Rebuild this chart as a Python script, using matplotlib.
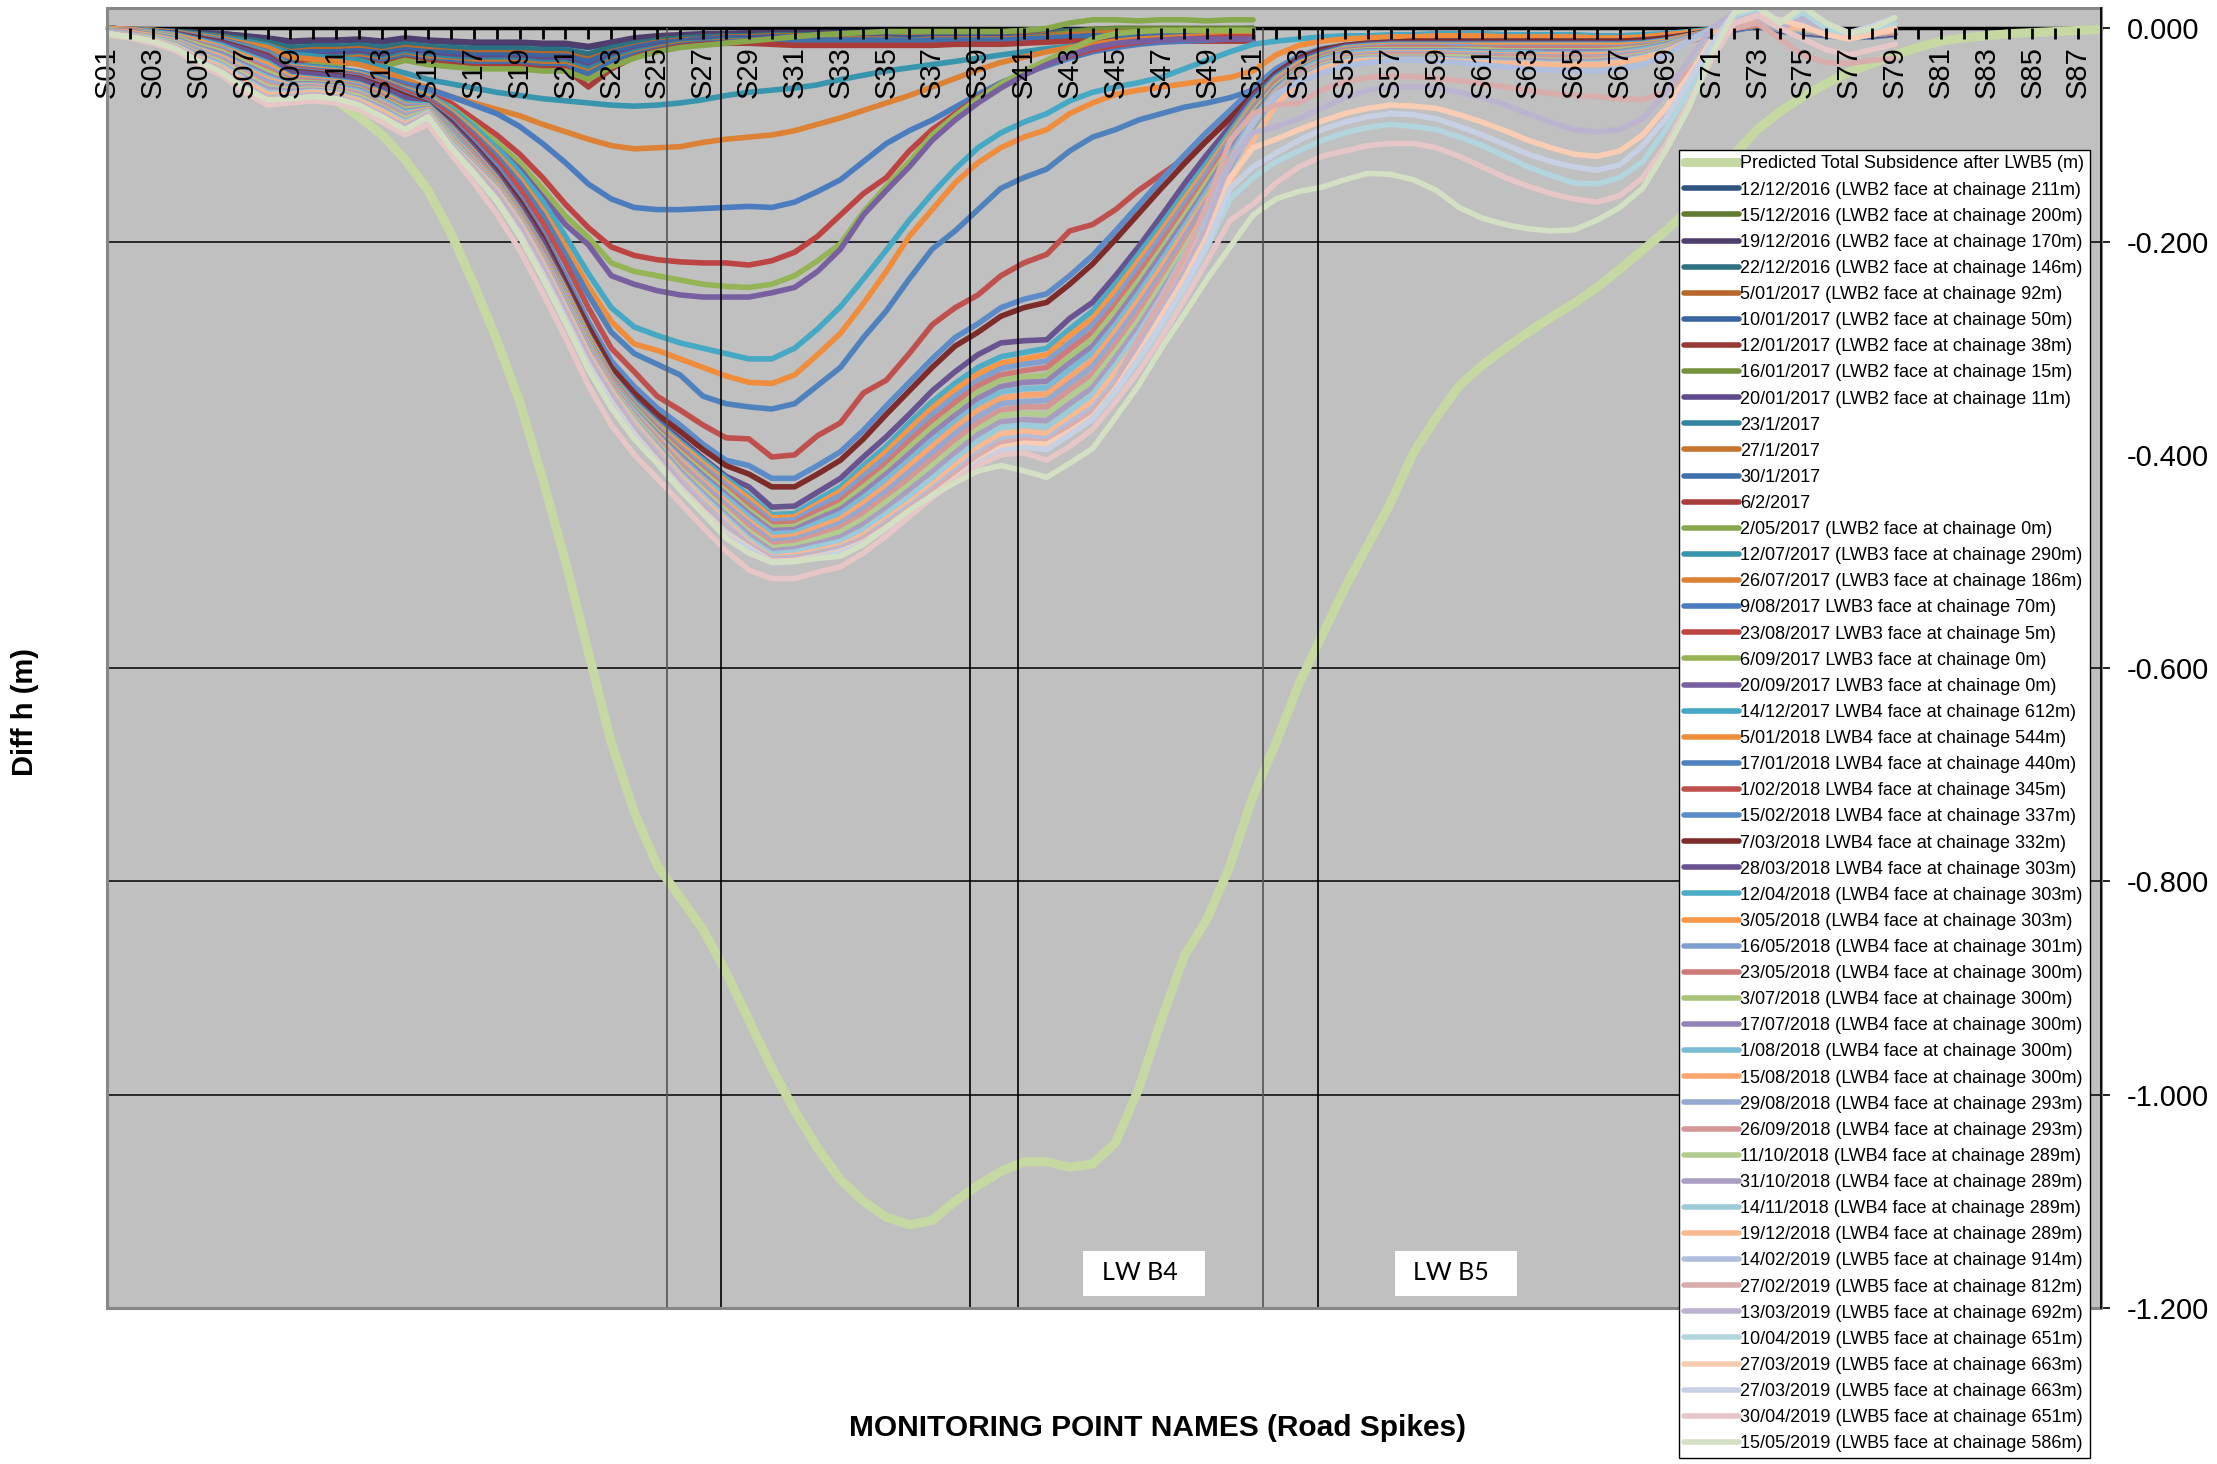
import numpy as np
import matplotlib
matplotlib.use("Agg")
import matplotlib.pyplot as plt
from matplotlib.patches import Rectangle

plt.rcParams['font.family'] = ['Liberation Sans', 'DejaVu Sans']
plt.rcParams['axes.unicode_minus'] = False

# road spikes S01..S88
points = ['S%02d' % n for n in range(1, 89)]

# all readings in mm, one value per spike starting at S01
predicted = [-5, -7, -10, -13, -17, -22, -28, -35, -44, -55,
             -68, -83, -100, -123, -152, -192, -240, -292, -350, -422,
             -500, -585, -670, -735, -785, -815, -845, -885, -930, -975,
             -1015, -1050, -1080, -1100, -1115, -1122, -1118, -1100, -1085, -1072,
             -1063, -1063, -1068, -1065, -1045, -995, -930, -870, -835, -785,
             -720, -670, -615, -570, -525, -485, -445, -398, -365, -335,
             -316, -300, -285, -271, -258, -243, -226, -208, -190, -170,
             -145, -118, -95, -78, -64, -52, -41, -33, -25, -18,
             -12, -9, -7, -5, -4, -3, -2, -1]

# LWB2 period (S01-S51)
s_20161212 = [0, -1, -2, -3, -4, -5, -7, -10, -13,
              -12, -12, -11, -13, -10, -12, -13, -14, -14, -14, -15, -15, -18,
              -14, -10, -8, -7, -6, -5, -5, -4, -4, -4, -4, -4, -4, -5, -4, -4, -4, -4, -4, -3,
              -2, -2, -2, -2, -1, -1, -1, -1, 0]
s_20161215 = [0, -1, -2, -4, -5, -7, -10, -14, -19,
              -18, -18, -17, -19, -16, -18, -19, -20, -21, -21, -22, -22, -26,
              -20, -15, -12, -10, -9, -8, -7, -6, -6, -6, -6, -6, -7, -7, -6, -6, -6, -6, -6, -5,
              -3, -1, 0, 0, 0, 0, 0, 0, 0]
s_20161219 = [0, -1, -2, -3, -4, -5, -7, -9, -12,
              -11, -11, -10, -12, -9, -11, -12, -13, -13, -13, -14, -14, -17,
              -13, -9, -7, -6, -5, -5, -4, -4, -4, -4, -4, -4, -4, -5, -4, -4, -4, -4, -4, -4,
              -6, -7, -7, -7, -7, -7, -7, -8, -8]
s_20161222 = [0, -1, -2, -3, -5, -7, -10, -13, -18,
              -17, -17, -16, -18, -15, -17, -18, -19, -19, -19, -20, -20, -24,
              -18, -14, -11, -9, -8, -7, -7, -6, -6, -6, -6, -6, -6, -7, -6, -6, -6, -6, -6, -5,
              -4, -3, -3, -3, -3, -3, -3, -3, -3]
s_20170105 = [0, -1, -2, -4, -6, -8, -12, -16, -22,
              -20, -20, -19, -22, -18, -20, -22, -23, -23, -23, -24, -24, -29,
              -22, -17, -13, -11, -10, -8, -8, -7, -7, -7, -7, -7, -7, -8, -7, -7, -7, -7, -7, -6,
              -5, -4, -4, -4, -4, -4, -4, -3, -3]
s_20170110 = [0, -1, -3, -4, -6, -9, -13, -17, -23,
              -22, -22, -21, -23, -20, -22, -23, -25, -25, -25, -26, -26, -31,
              -23, -18, -14, -12, -10, -9, -9, -8, -8, -8, -8, -8, -8, -9, -8, -8, -8, -8, -8, -7,
              -7, -6, -6, -6, -6, -6, -6, -6, -6]
s_20170112 = [0, -2, -3, -5, -8, -11, -15, -20, -27,
              -26, -26, -24, -27, -23, -26, -27, -29, -29, -29, -30, -30, -38,
              -27, -21, -17, -14, -12, -11, -11, -10, -10, -10, -10, -11, -12, -12, -12, -12, -12, -13, -13, -12,
              -11, -11, -11, -11, -11, -11, -11, -11, -11]
s_20170116 = [0, -2, -4, -5, -9, -13, -18, -23, -32,
              -31, -31, -29, -32, -27, -31, -32, -34, -35, -35, -36, -36, -42,
              -32, -25, -20, -16, -14, -13, -12, -11, -11, -11, -11, -11, -11, -12, -11, -11, -11, -11, -10, -8,
              -4, -2, -1, -1, -1, -1, -1, -1, -1]
s_20170120 = [0, -2, -3, -5, -8, -11, -15, -20, -27,
              -26, -25, -24, -27, -23, -25, -27, -28, -28, -28, -30, -30, -36,
              -27, -21, -17, -14, -12, -11, -10, -9, -9, -9, -9, -9, -9, -10, -9, -9, -9, -9, -9, -9,
              -9, -9, -9, -10, -10, -10, -10, -10, -10]
s_20170123 = [0, -2, -3, -5, -8, -11, -16, -21, -29,
              -27, -27, -26, -29, -24, -27, -29, -30, -30, -30, -32, -32, -38,
              -29, -22, -18, -14, -13, -11, -11, -10, -10, -10, -10, -10, -10, -11, -10, -10, -10, -10, -9, -8,
              -7, -6, -5, -5, -5, -5, -4, -4, -4]
s_20170127 = [0, -2, -3, -5, -9, -12, -17, -22, -31,
              -29, -29, -27, -31, -26, -29, -31, -32, -32, -32, -34, -34, -41,
              -31, -24, -19, -15, -14, -12, -12, -10, -10, -10, -10, -10, -10, -12, -10, -10, -10, -10, -9, -8,
              -6, -5, -4, -4, -4, -4, -4, -4, -4]
s_20170130 = [0, -2, -4, -5, -9, -13, -18, -23, -32,
              -31, -31, -29, -32, -27, -31, -32, -34, -34, -34, -36, -36, -43,
              -32, -25, -20, -16, -14, -13, -12, -11, -11, -11, -11, -11, -11, -12, -11, -11, -11, -11, -10, -9,
              -8, -7, -7, -7, -7, -7, -7, -7, -7]
s_20170206 = [0, -2, -4, -6, -10, -13, -19, -25, -34,
              -32, -32, -30, -34, -29, -32, -34, -36, -36, -36, -38, -38, -55,
              -38, -27, -21, -17, -15, -14, -14, -15, -16, -16, -16, -16, -16, -16, -16, -15, -15, -15, -14, -13,
              -12, -12, -12, -12, -12, -12, -12, -12, -12]
s_20170502 = [0, -2, -4, -6, -10, -14, -20, -26, -36,
              -34, -34, -32, -36, -30, -34, -36, -38, -38, -38, -40, -40, -48,
              -36, -28, -22, -18, -16, -14, -12, -10, -8, -6, -5, -4, -3, -3, -3, -3, -3, -3, -2, 0,
              5, 8, 8, 7, 8, 8, 7, 8, 8]

# LWB3 period (S01-S51)
s_20170712 = [0, -1, -2, -4, -6, -9, -12, -16, -24,
              -26, -28, -30, -36, -42, -48, -52, -56, -60, -63, -66, -68, -70,
              -72, -73, -72, -70, -67, -63, -60, -58, -56, -53, -48, -44, -40, -37, -34, -31, -28, -25, -22, -19,
              -17, -15, -13, -12, -11, -10, -10, -9, -8]
s_20170726 = [0, -1, -2, -4, -7, -10, -14, -18, -27,
              -29, -31, -34, -40, -48, -56, -64, -70, -76, -82, -90, -97, -104,
              -110, -113, -112, -111, -107, -104, -102, -100, -96, -90, -84, -77, -70, -63, -55, -47, -39, -32, -27, -22,
              -18, -15, -12, -10, -9, -8, -7, -6, -5]
s_20170809 = [0, -1, -3, -5, -8, -11, -16, -22, -34,
              -36, -38, -41, -46, -52, -57, -64, -72, -80, -92, -108, -126, -146,
              -160, -168, -170, -170, -169, -168, -167, -168, -163, -153, -142, -125, -108, -96, -86, -74, -62, -51, -42, -35,
              -28, -22, -18, -15, -13, -12, -11, -10, -9]
s_20170823 = [0, -1, -3, -5, -8, -12, -17, -23, -36,
              -38, -40, -43, -48, -55, -62, -70, -85, -100, -118, -140, -165, -187,
              -205, -213, -217, -219, -220, -220, -222, -218, -210, -195, -175, -155, -140, -115, -95, -80, -65, -52, -42, -33,
              -26, -20, -16, -13, -11, -10, -9, -8, -8]
s_20170906 = [0, -1, -3, -5, -8, -12, -17, -23, -36,
              -38, -40, -43, -49, -57, -64, -74, -90, -107, -126, -150, -176, -196,
              -220, -228, -232, -236, -240, -242, -243, -240, -232, -218, -202, -172, -148, -125, -100, -82, -66, -52, -40, -30,
              -20, -10, -5, -3, -2, -2, -2, -2, -2]
s_20170920 = [0, -1, -3, -5, -8, -12, -17, -23, -37,
              -39, -41, -44, -50, -59, -67, -78, -95, -112, -132, -158, -184, -203,
              -232, -240, -246, -250, -252, -252, -252, -248, -243, -228, -207, -175, -152, -130, -105, -86, -70, -56, -44, -34,
              -25, -18, -14, -12, -11, -10, -10, -10, -10]

# LWB4 period (S01-S79)
s_20171214 = [0, -1, -3, -5, -8, -12, -17, -23, -35, -37, -39, -42, -48, -56, -62,
              -75, -92, -112, -135, -162, -195, -230, -262, -280, -288, -295, -300, -305,
              -310, -310, -300, -282, -261, -235, -208, -180, -155, -132, -112, -98, -88,
              -80, -68, -60, -55, -51, -46, -38, -30, -22, -15, -12, -10, -8,
              -7, -7, -6, -6, -5, -5, -5, -6, -6, -6, -6, -7, -7,
              -6, -5, -3, -1, 0, 3, -2, -3, -4, -5, -4, -3]
s_20180105 = [0, -1, -3, -5, -8, -12, -18, -24, -36, -38, -40, -43, -49, -57, -64,
              -78, -96, -117, -141, -170, -205, -242, -275, -296, -302, -310, -318, -326,
              -332, -333, -325, -306, -286, -258, -228, -195, -170, -145, -126, -112, -102,
              -95, -80, -70, -62, -58, -55, -52, -49, -46, -40, -25, -16, -12,
              -10, -9, -8, -8, -7, -7, -7, -8, -8, -8, -8, -9, -9,
              -8, -6, -4, -2, 1, 6, 1, -2, -4, -5, -3, -2]
s_20180117 = [0, -1, -3, -5, -8, -12, -18, -24, -37, -39, -41, -44, -50, -58, -66,
              -80, -99, -120, -145, -175, -212, -250, -285, -305, -315, -325, -345, -352,
              -355, -357, -352, -335, -318, -290, -265, -235, -207, -190, -170, -150, -140,
              -132, -115, -102, -95, -86, -80, -74, -70, -65, -58, -50, -40, -30,
              -25, -22, -22, -22, -22, -22, -22, -22, -22, -22, -22, -22, -22,
              -20, -17, -12, -6, -2, 2, -3, -5, -7, -9, -8, -6]
s_20180201 = [0, -1, -3, -5, -9, -13, -19, -25, -38, -40, -42, -45, -51, -60, -68,
              -82, -102, -124, -150, -182, -220, -262, -300, -322, -345, -358, -372, -384,
              -385, -402, -400, -382, -370, -342, -330, -305, -278, -262, -250, -232, -220,
              -212, -190, -184, -170, -152, -137, -122, -105, -85, -60, -40, -28, -20,
              -16, -14, -13, -12, -12, -12, -13, -13, -13, -13, -13, -13, -13,
              -12, -10, -7, -3, 0, 4, -1, -3, -6, -8, -6, -4]
s_20180215 = [0, -1, -3, -5, -9, -13, -19, -26, -39, -41, -43, -46, -53, -62, -70,
              -86, -107, -130, -158, -192, -232, -275, -312, -336, -356, -372, -390, -405,
              -410, -422, -422, -410, -397, -377, -354, -332, -310, -290, -277, -262, -254,
              -249, -232, -213, -190, -166, -142, -119, -97, -77, -56, -38, -26, -19,
              -16, -14, -13, -13, -12, -12, -12, -12, -12, -12, -12, -12, -12,
              -11, -9, -6, -2, 1, 4, -1, -3, -5, -7, -6, -4]
s_20180307 = [0, -1, -3, -5, -9, -13, -19, -26, -40, -42, -44, -47, -54, -63, -71,
              -88, -110, -134, -162, -196, -238, -280, -318, -342, -362, -378, -395, -410,
              -418, -430, -430, -418, -405, -385, -362, -340, -318, -298, -285, -270, -262,
              -257, -240, -221, -198, -174, -150, -127, -105, -84, -62, -42, -28, -20,
              -16, -14, -13, -12, -12, -12, -12, -12, -12, -12, -12, -12, -12,
              -11, -9, -6, -3, 0, 3, -2, -4, -6, -8, -7, -5]
s_20180328 = [0, -1, -3, -5, -10, -14, -20, -27, -41, -43, -45, -48, -56, -65, -72,
              -90, -112, -137, -166, -200, -243, -287, -325, -348, -368, -385, -403, -420,
              -430, -449, -448, -435, -422, -402, -383, -362, -340, -322, -306, -295, -293,
              -292, -272, -257, -232, -205, -176, -146, -118, -92, -64, -44, -30, -22,
              -17, -15, -14, -14, -14, -14, -14, -14, -14, -14, -14, -14, -14,
              -13, -11, -8, -4, -1, 3, -2, -4, -6, -8, -7, -5]
s_20180412 = [0, -1, -3, -6, -11, -16, -24, -32, -45, -47,
              -49, -52, -60, -70, -72, -92, -115, -140, -170, -205,
              -245, -288, -325, -350, -370, -388, -405, -422, -438, -456,
              -455, -442, -430, -410, -392, -370, -350, -333, -318, -308,
              -304, -300, -282, -265, -240, -212, -184, -155, -126, -97,
              -68, -46, -32, -24, -18, -16, -15, -15, -15, -15,
              -15, -15, -15, -15, -15, -15, -15, -14, -11, -7,
              -3, 0, 3, -1, -3, -5, -7, -6, -4]
s_20180503 = [0, -1, -4, -7, -12, -18, -26, -34, -46, -48,
              -50, -53, -61, -72, -73, -93, -116, -141, -171, -206,
              -246, -289, -326, -352, -372, -390, -408, -425, -441, -459,
              -458, -446, -434, -415, -397, -376, -356, -339, -324, -314,
              -310, -306, -288, -272, -246, -218, -190, -160, -131, -101,
              -71, -48, -33, -25, -19, -17, -16, -16, -16, -16,
              -16, -16, -16, -16, -16, -16, -16, -15, -12, -7,
              -3, 0, 3, -1, -3, -5, -7, -6, -4]
s_20180516 = [-1, -2, -4, -8, -14, -19, -28, -37, -48, -49,
              -51, -54, -63, -73, -73, -94, -117, -142, -172, -207,
              -248, -291, -327, -353, -374, -393, -411, -428, -445, -462,
              -461, -449, -438, -420, -402, -382, -362, -345, -330, -319,
              -315, -312, -295, -278, -253, -224, -195, -165, -135, -104,
              -74, -50, -35, -26, -20, -18, -17, -17, -17, -17,
              -18, -18, -18, -18, -18, -18, -18, -16, -13, -8,
              -3, 0, 4, -1, -3, -5, -7, -6, -4]
s_20180523 = [-1, -2, -5, -9, -15, -21, -30, -39, -49, -50,
              -52, -56, -64, -75, -74, -96, -118, -143, -173, -208,
              -249, -292, -328, -355, -376, -395, -414, -431, -448, -465,
              -464, -453, -443, -425, -408, -387, -368, -351, -335, -325,
              -321, -318, -301, -285, -259, -230, -201, -170, -140, -108,
              -77, -52, -36, -27, -21, -19, -18, -18, -18, -19,
              -19, -19, -19, -19, -19, -19, -19, -17, -14, -8,
              -3, 0, 4, 0, -2, -5, -7, -6, -4]
s_20180703 = [-1, -3, -5, -9, -16, -22, -32, -41, -50, -51,
              -53, -57, -66, -76, -74, -97, -120, -144, -174, -210,
              -250, -293, -330, -356, -378, -398, -416, -434, -452, -468,
              -467, -457, -447, -430, -413, -393, -374, -357, -341, -330,
              -327, -325, -308, -291, -265, -237, -207, -176, -144, -112,
              -79, -54, -38, -28, -22, -20, -20, -20, -20, -20,
              -20, -21, -21, -21, -21, -21, -20, -18, -14, -9,
              -3, 1, 5, 0, -2, -4, -7, -6, -3]
s_20180717 = [-2, -3, -6, -10, -18, -24, -34, -44, -52, -52,
              -54, -58, -67, -78, -75, -98, -121, -145, -175, -211,
              -252, -295, -331, -358, -380, -400, -419, -437, -455, -471,
              -470, -460, -451, -435, -418, -399, -380, -363, -347, -336,
              -332, -331, -314, -298, -272, -243, -212, -181, -149, -115,
              -82, -56, -39, -29, -23, -21, -21, -21, -21, -21,
              -22, -22, -22, -22, -22, -22, -22, -19, -15, -9,
              -3, 1, 5, 0, -2, -4, -7, -6, -3]
s_20180801 = [-2, -4, -7, -11, -19, -26, -36, -46, -53, -53,
              -55, -59, -68, -79, -76, -99, -122, -146, -176, -212,
              -253, -296, -332, -359, -382, -403, -422, -440, -458, -474,
              -473, -464, -455, -440, -423, -405, -386, -369, -353, -341,
              -338, -337, -320, -304, -278, -249, -218, -186, -153, -119,
              -85, -58, -40, -30, -24, -22, -22, -22, -22, -22,
              -23, -23, -23, -24, -24, -24, -23, -20, -16, -9,
              -3, 1, 5, 0, -2, -4, -7, -6, -3]
s_20180815 = [-2, -4, -7, -12, -20, -27, -38, -48, -54, -54,
              -56, -61, -70, -81, -76, -101, -123, -146, -176, -213,
              -254, -297, -333, -361, -383, -405, -425, -444, -462, -478,
              -476, -468, -460, -445, -429, -410, -392, -374, -358, -347,
              -344, -343, -327, -311, -284, -255, -224, -191, -158, -123,
              -88, -60, -42, -32, -26, -24, -23, -23, -23, -24,
              -24, -25, -25, -25, -25, -25, -24, -22, -17, -10,
              -4, 1, 6, 1, -1, -4, -6, -5, -3]
s_20180829 = [-2, -5, -8, -13, -21, -29, -40, -50, -55, -55,
              -57, -62, -71, -82, -77, -102, -124, -147, -177, -214,
              -255, -298, -334, -362, -385, -408, -428, -447, -465, -481,
              -479, -472, -464, -450, -434, -416, -398, -380, -364, -352,
              -350, -349, -333, -317, -290, -261, -230, -196, -162, -127,
              -91, -62, -43, -33, -27, -25, -24, -24, -24, -25,
              -25, -26, -26, -27, -27, -27, -25, -23, -18, -10,
              -4, 1, 6, 1, -1, -4, -6, -5, -3]
s_20180926 = [-3, -5, -9, -14, -23, -31, -42, -53, -57, -56,
              -58, -63, -72, -84, -78, -103, -125, -148, -178, -215,
              -257, -300, -335, -364, -387, -410, -431, -450, -468, -484,
              -482, -475, -468, -455, -439, -422, -404, -386, -370, -358,
              -355, -355, -339, -324, -297, -267, -235, -201, -167, -130,
              -94, -64, -44, -34, -28, -26, -25, -25, -25, -26,
              -27, -27, -27, -28, -28, -28, -27, -24, -19, -10,
              -4, 1, 6, 1, -1, -4, -6, -5, -3]
s_20181011 = [-3, -6, -9, -14, -24, -32, -44, -55, -58, -57,
              -59, -64, -74, -85, -78, -104, -127, -149, -179, -217,
              -258, -301, -337, -365, -389, -413, -433, -453, -472, -487,
              -485, -479, -472, -460, -444, -428, -410, -392, -376, -363,
              -361, -362, -346, -330, -303, -274, -241, -207, -171, -134,
              -96, -66, -46, -35, -29, -27, -27, -27, -27, -27,
              -28, -29, -29, -30, -30, -30, -28, -25, -19, -11,
              -4, 2, 7, 1, -1, -3, -6, -5, -2]
s_20181031 = [-3, -6, -10, -15, -25, -34, -46, -57, -59, -58,
              -60, -66, -75, -87, -79, -106, -128, -150, -180, -218,
              -259, -302, -338, -367, -391, -415, -436, -456, -475, -490,
              -488, -483, -477, -465, -450, -433, -416, -398, -381, -369,
              -367, -368, -352, -337, -309, -280, -247, -212, -176, -138,
              -99, -68, -47, -36, -30, -28, -28, -28, -28, -29,
              -29, -30, -30, -31, -31, -31, -29, -26, -20, -11,
              -4, 2, 7, 2, 0, -3, -6, -5, -2]
s_20181114 = [-4, -6, -10, -16, -27, -35, -48, -60, -61, -59,
              -61, -67, -77, -88, -79, -107, -129, -151, -181, -219,
              -261, -304, -339, -368, -393, -418, -439, -459, -479, -493,
              -491, -486, -481, -470, -455, -439, -422, -404, -387, -374,
              -372, -374, -359, -343, -316, -286, -252, -217, -180, -141,
              -102, -70, -49, -37, -31, -29, -29, -29, -29, -30,
              -31, -32, -32, -33, -33, -33, -31, -27, -21, -12,
              -4, 2, 8, 2, 0, -3, -6, -5, -2]
s_20181219 = [-4, -7, -11, -17, -28, -37, -50, -62, -62, -60,
              -62, -68, -78, -90, -80, -108, -130, -152, -182, -220,
              -262, -305, -340, -370, -395, -420, -442, -462, -482, -496,
              -494, -490, -485, -475, -460, -445, -428, -410, -393, -380,
              -378, -380, -365, -350, -322, -292, -258, -222, -185, -145,
              -105, -72, -50, -38, -32, -30, -30, -30, -30, -31,
              -32, -33, -33, -34, -34, -34, -32, -28, -22, -12,
              -4, 2, 8, 2, 0, -3, -6, -5, -2]

# LWB5 period (S01-S79)
s_20190214 = [-4, -7, -12, -18, -30, -39, -54, -65, -64, -62,
              -64, -70, -81, -92, -81, -109, -131, -154, -185, -223,
              -265, -308, -343, -373, -398, -423, -445, -465,
              -484, -497, -496, -492, -487, -478, -463, -448, -432, -415, -398, -386, -383, -385,
              -370, -356, -330, -290, -252, -212, -170, -125, -88, -62,
              -50, -42, -35, -32, -30, -30, -31, -32, -34, -36,
              -38, -39, -40, -40, -38, -34, -25, -12, 0, 10,
              14, 4, 8, -2, -8, -5, 2]
s_20190227 = [-5, -7, -12, -19, -31, -40, -56, -66, -65, -63,
              -65, -71, -82, -93, -82, -110, -132, -156, -188, -226,
              -268, -311, -346, -376, -401, -426, -448, -468,
              -485, -498, -497, -493, -488, -479, -465, -450, -434, -418, -401, -389, -386, -388,
              -374, -360, -334, -292, -255, -215, -165, -105, -80, -72,
              -70, -58, -50, -46, -45, -45, -47, -49, -52, -55,
              -58, -61, -63, -64, -66, -67, -60, -40, -20, 0,
              5, -10, -25, -32, -33, -30, -28]
s_20190313 = [-5, -8, -13, -19, -32, -41, -57, -67, -66, -64,
              -66, -72, -83, -94, -82, -110, -134, -158, -190, -228,
              -270, -313, -348, -378, -403, -428, -450, -470,
              -486, -499, -498, -494, -489, -481, -467, -452, -437, -421, -405, -393, -390, -393,
              -378, -364, -338, -300, -265, -228, -185, -125, -98, -92,
              -85, -75, -65, -58, -55, -55, -56, -60, -65, -72,
              -80, -88, -95, -97, -95, -85, -60, -30, 0, 15,
              10, 0, 10, -5, -10, -5, 0]
s_20190410 = [-5, -8, -13, -20, -32, -42, -58, -68, -66, -64,
              -66, -72, -84, -95, -83, -111, -135, -160, -192, -230,
              -272, -315, -350, -380, -405, -430, -452, -472,
              -487, -500, -499, -495, -490, -482, -468, -454, -439, -423, -407, -395, -392, -395,
              -381, -367, -341, -312, -280, -245, -205, -160, -140, -125,
              -115, -105, -98, -93, -90, -92, -95, -102, -110, -120,
              -130, -138, -145, -146, -140, -125, -95, -60, -20, 12,
              18, 5, 15, 0, -8, -4, 4]
s_20190327a = [-5, -8, -13, -20, -33, -42, -58, -68, -67, -65,
               -67, -73, -84, -96, -83, -112, -136, -161, -193, -231,
               -273, -316, -351, -381, -406, -431, -453, -474,
               -487, -500, -499, -495, -491, -482, -468, -453, -438, -422, -406, -393, -389, -390,
               -378, -364, -338, -305, -270, -235, -195, -140, -112, -104,
               -95, -87, -80, -75, -72, -73, -75, -81, -88, -96,
               -105, -112, -118, -120, -115, -100, -75, -45, -12, 5,
               12, 8, 2, -6, -10, -6, 0]
s_20190327b = [-6, -8, -13, -20, -33, -42, -58, -69, -67, -65,
               -67, -73, -85, -97, -84, -113, -137, -162, -194, -232,
               -274, -317, -352, -382, -407, -432, -455, -476,
               -488, -501, -500, -496, -492, -483, -469, -455, -440, -424, -408, -396, -393, -395,
               -381, -366, -340, -310, -277, -242, -202, -150, -130, -117,
               -105, -95, -88, -83, -80, -81, -85, -92, -100, -109,
               -118, -125, -130, -133, -128, -110, -85, -50, -15, 15,
               20, 6, 20, 5, -4, 2, 10]
s_20190430 = [-6, -9, -14, -21, -34, -44, -60, -72, -70, -68,
              -70, -76, -88, -100, -90, -118, -145, -174, -208, -248,
              -290, -335, -372, -400, -422, -445, -468, -490,
              -508, -516, -516, -510, -505, -492, -476, -458, -440, -424, -410, -400, -398, -405,
              -392, -376, -350, -322, -290, -255, -218, -180, -165, -145,
              -130, -120, -115, -110, -108, -108, -112, -120, -130, -140,
              -148, -155, -160, -163, -157, -140, -110, -70, -30, 5,
              12, 0, -10, -20, -25, -20, -15]
s_20190515 = [-5, -8, -12, -19, -31, -41, -56, -67, -66, -64,
              -66, -72, -83, -95, -83, -112, -136, -162, -195, -234,
              -276, -320, -356, -385, -408, -433, -455, -478,
              -492, -501, -500, -497, -495, -484, -468, -452, -438, -426, -415, -410, -415, -421,
              -408, -394, -365, -335, -300, -268, -235, -205, -175, -160,
              -153, -149, -142, -136, -137, -142, -152, -168, -178, -184,
              -188, -190, -189, -180, -168, -150, -115, -75, -25, 15,
              20, 5, 20, 5, -5, 0, 10]

labels = [
    'Predicted Total Subsidence after LWB5 (m)',
    '12/12/2016 (LWB2 face at chainage 211m)',
    '15/12/2016 (LWB2 face at chainage 200m)',
    '19/12/2016 (LWB2 face at chainage 170m)',
    '22/12/2016 (LWB2 face at chainage 146m)',
    '5/01/2017 (LWB2 face at chainage 92m)',
    '10/01/2017 (LWB2 face at chainage 50m)',
    '12/01/2017 (LWB2 face at chainage 38m)',
    '16/01/2017 (LWB2 face at chainage 15m)',
    '20/01/2017 (LWB2 face at chainage 11m)',
    '23/1/2017',
    '27/1/2017',
    '30/1/2017',
    '6/2/2017',
    '2/05/2017 (LWB2 face at chainage 0m)',
    '12/07/2017 (LWB3 face at chainage 290m)',
    '26/07/2017 (LWB3 face at chainage 186m)',
    '9/08/2017 LWB3 face at chainage 70m)',
    '23/08/2017 LWB3 face at chainage 5m)',
    '6/09/2017 LWB3 face at chainage 0m)',
    '20/09/2017 LWB3 face at chainage 0m)',
    '14/12/2017 LWB4 face at chainage 612m)',
    '5/01/2018 LWB4 face at chainage 544m)',
    '17/01/2018 LWB4 face at chainage 440m)',
    '1/02/2018 LWB4 face at chainage 345m)',
    '15/02/2018 LWB4 face at chainage 337m)',
    '7/03/2018 LWB4 face at chainage 332m)',
    '28/03/2018 LWB4 face at chainage 303m)',
    '12/04/2018 (LWB4 face at chainage 303m)',
    '3/05/2018 (LWB4 face at chainage 303m)',
    '16/05/2018 (LWB4 face at chainage 301m)',
    '23/05/2018 (LWB4 face at chainage 300m)',
    '3/07/2018 (LWB4 face at chainage 300m)',
    '17/07/2018 (LWB4 face at chainage 300m)',
    '1/08/2018 (LWB4 face at chainage 300m)',
    '15/08/2018 (LWB4 face at chainage 300m)',
    '29/08/2018 (LWB4 face at chainage 293m)',
    '26/09/2018 (LWB4 face at chainage 293m)',
    '11/10/2018 (LWB4 face at chainage 289m)',
    '31/10/2018 (LWB4 face at chainage 289m)',
    '14/11/2018 (LWB4 face at chainage 289m)',
    '19/12/2018 (LWB4 face at chainage 289m)',
    '14/02/2019 (LWB5 face at chainage 914m)',
    '27/02/2019 (LWB5 face at chainage 812m)',
    '13/03/2019 (LWB5 face at chainage 692m)',
    '10/04/2019 (LWB5 face at chainage 651m)',
    '27/03/2019 (LWB5 face at chainage 663m)',
    '27/03/2019 (LWB5 face at chainage 663m)',
    '30/04/2019 (LWB5 face at chainage 651m)',
    '15/05/2019 (LWB5 face at chainage 586m)',
]

colors = ['#c6d9a3',
          '#2f5480', '#5f7a32', '#4f3d6e', '#2c7180', '#b8672c', '#3a65a0', '#9a3a37',
          '#76923c', '#5f4b8b', '#31859c', '#c8732e', '#4070aa', '#a83c3a', '#87a84a',
          '#3796ad', '#dd8235', '#4a7cbf', '#bd4442', '#94b455', '#7860a0',
          '#45a8c4', '#ef8d3d', '#4f81bd', '#c0504d', '#5b8bc9', '#7d2c2a', '#68528f',
          '#4bacc6', '#f79646', '#7f9fcf', '#cd7a78', '#a8c47a', '#9583b4', '#7bbcd4',
          '#f9a56f', '#94a8d0', '#d39896', '#b3cc8f', '#a99dc0', '#9ccbd9', '#f9b993',
          '#afbfdd', '#d9adac', '#bcb3cf', '#b2d5de', '#f9cdb4', '#c8d0e4', '#e6c6c6',
          '#d4e0c4']

series = [predicted,
          s_20161212, s_20161215, s_20161219, s_20161222, s_20170105, s_20170110,
          s_20170112, s_20170116, s_20170120, s_20170123, s_20170127, s_20170130,
          s_20170206, s_20170502,
          s_20170712, s_20170726, s_20170809, s_20170823, s_20170906, s_20170920,
          s_20171214, s_20180105, s_20180117, s_20180201, s_20180215, s_20180307,
          s_20180328, s_20180412, s_20180503, s_20180516, s_20180523, s_20180703,
          s_20180717, s_20180801, s_20180815, s_20180829, s_20180926, s_20181011,
          s_20181031, s_20181114, s_20181219,
          s_20190214, s_20190227, s_20190313, s_20190410, s_20190327a, s_20190327b,
          s_20190430, s_20190515]

# longwall panel edges (in spike units) and panel name boxes
panel_edges = [24.44, 26.79, 37.65, 39.75, 50.43, 52.84]
panel_names = ['LW B4', 'LW B5']
panel_box_x = [42.6, 56.2]

fig = plt.figure(figsize=(22.17, 14.64), dpi=100)
ax = fig.add_axes([0.0483, 0.1066, 0.8994, 0.8876])
ax.set_facecolor('#c0c0c0')

handles = []
for k, (vals, lab, col) in enumerate(zip(series, labels, colors)):
    y = np.array(vals, dtype=float) / 1000.0
    lw = 6.5 if k == 0 else 4.0
    h, = ax.plot(np.arange(len(y)), y, color=col, lw=lw, label=lab,
                 solid_joinstyle='round', solid_capstyle='round', zorder=2)
    handles.append(h)

for g in [-0.2, -0.6, -0.8, -1.0]:
    ax.axhline(g, color='black', lw=1.1, zorder=1)

ax.vlines(panel_edges, -1.2, 0, colors=['#555555', 'black', 'black', 'black', '#555555', 'black'],
          lw=1.2, zorder=3)

for name, x0 in zip(panel_names, panel_box_x):
    ax.add_patch(Rectangle((x0, -1.189), 5.3, 0.042, facecolor='white',
                           edgecolor='none', zorder=4))
    ax.text(x0 + 0.8, -1.167, name, fontsize=18, family=['Lato', 'DejaVu Sans'],
            ha='left', va='center', zorder=5)

ax.set_xlim(0, 87)
ax.set_ylim(-1.2, 0.0186)

# category axis crosses at zero; line under the data, labels over it
ax.spines['bottom'].set_position(('data', 0))
ax.spines['bottom'].set_linewidth(2.5)
ax.spines['bottom'].set_color('black')
ax.spines['bottom'].set_zorder(1.5)
ax.spines['left'].set_visible(False)
ax.spines['top'].set_visible(False)
ax.spines['right'].set_color('black')
ax.spines['right'].set_linewidth(1.3)
ax.spines['right'].set_zorder(6)
ax.add_patch(Rectangle((0, 0), 1, 1, transform=ax.transAxes, fill=False,
                       edgecolor='#878787', lw=2.2, zorder=5, clip_on=False))

ax.set_xticks(range(len(points)))
ax.set_xticklabels([p if i % 2 == 0 else '' for i, p in enumerate(points)],
                   rotation=90, fontsize=21)
ax.tick_params(axis='x', direction='out', length=8, width=2, pad=5, colors='black')
ax.xaxis.set_zorder(2.6)

yticks = [0.0, -0.2, -0.4, -0.6, -0.8, -1.0, -1.2]
ax.yaxis.tick_right()
ax.set_yticks(yticks)
ax.set_yticklabels(['%.3f' % v for v in yticks], fontsize=21)
ax.tick_params(axis='y', direction='out', length=6.5, width=1.2, pad=12)
ax.yaxis.get_major_ticks()[2].tick2line.set_visible(False)

fig.text(0.0115, 0.514, 'Diff h (m)', rotation=90, fontsize=21, fontweight='bold',
         ha='center', va='center')
fig.text(0.522, 0.0246, 'MONITORING POINT NAMES (Road Spikes)', fontsize=21.5,
         fontweight='bold', ha='center', va='center')

leg = fig.legend(handles, labels, loc='upper left', bbox_to_anchor=(0.7573, 0.8975),
                 bbox_transform=fig.transFigure, fontsize=13.0, frameon=True,
                 fancybox=False, edgecolor='black', framealpha=1, borderpad=0.3,
                 labelspacing=0.505, handlelength=3.0, handletextpad=0.1,
                 borderaxespad=0)
leg.get_frame().set_linewidth(1.0)

fig.savefig('out.png', dpi=100)
